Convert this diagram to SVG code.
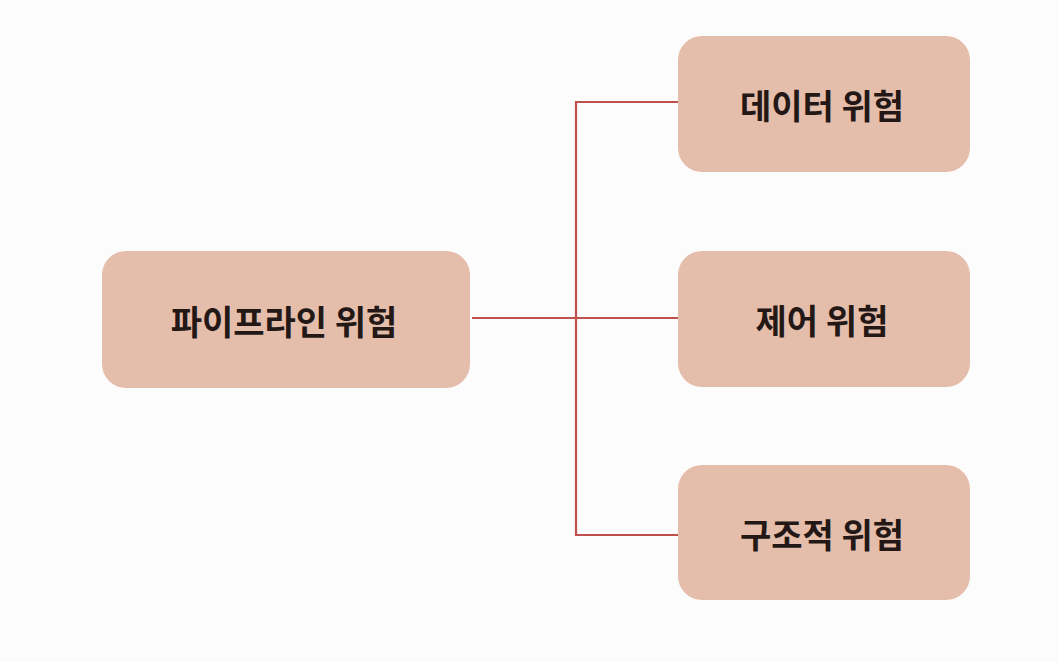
<svg xmlns="http://www.w3.org/2000/svg" width="1058" height="662" viewBox="0 0 1058 662">
<style>
.box{fill:#e5bdab;}
.lbl{font-family:"Noto Sans CJK KR","Noto Sans",sans-serif;font-size:34px;font-weight:bold;fill:#231815;text-anchor:middle;dominant-baseline:central;}
.ln{stroke:#c0504d;stroke-width:2.2;fill:none;}
</style>
<rect width="1058" height="662" fill="#fdfcfc"/>
<g id="connectors">
<path class="ln" d="M472 318 H678"/>
<path class="ln" d="M678 102 H576 V535 H678"/>
</g>
<g id="n-pipeline">
<rect class="box" x="102" y="251" width="368" height="137" rx="24"/>
<text class="lbl" x="284" y="320">파이프라인 위험</text>
</g>
<g id="n-data">
<rect class="box" x="678" y="36" width="292" height="136" rx="24"/>
<text class="lbl" x="822" y="104">데이터 위험</text>
</g>
<g id="n-control">
<rect class="box" x="678" y="251" width="292" height="136" rx="24"/>
<text class="lbl" x="822" y="319">제어 위험</text>
</g>
<g id="n-struct">
<rect class="box" x="678" y="465" width="292" height="135" rx="24"/>
<text class="lbl" x="822" y="533">구조적 위험</text>
</g>
</svg>
